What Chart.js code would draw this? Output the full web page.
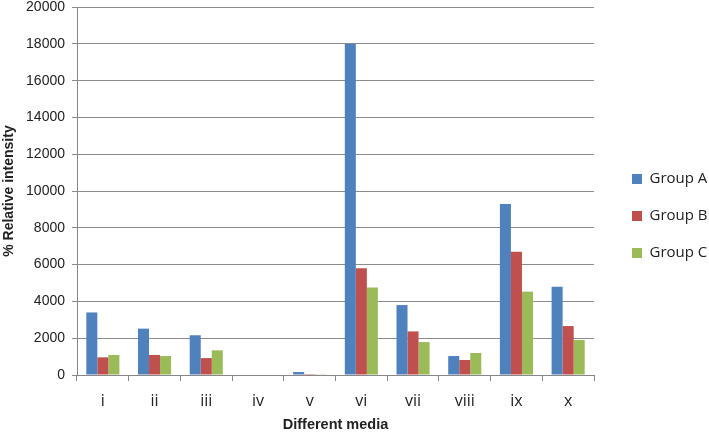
<!DOCTYPE html>
<html>
<head>
<meta charset="utf-8">
<script src="https://cdn.jsdelivr.net/npm/chart.js@4.4.1/dist/chart.umd.min.js"></script>
<style>
html,body{margin:0;padding:0;background:#fff;}
#wrap{width:709px;height:432px;position:relative;}
</style>
</head>
<body>
<div id="wrap"><canvas id="c" width="709" height="432"></canvas></div>
<script>
const categories = ['i','ii','iii','iv','v','vi','vii','viii','ix','x'];
const groupA = [3400, 2520, 2160, 0, 160, 18000, 3800, 1030, 9300, 4800];
const groupB = [960, 1090, 920, 0, 50, 5800, 2370, 815, 6700, 2660];
const groupC = [1090, 1030, 1340, 0, 40, 4750, 1790, 1195, 4530, 1900];
const seriesNames = ['Group A','Group B','Group C'];
const yTicks = [0,2000,4000,6000,8000,10000,12000,14000,16000,18000,20000];

const colors = ['#4F81BD','#C0504D','#9BBB59'];
const data = {
  labels: categories,
  datasets: [groupA, groupB, groupC].map((vals, i) => ({
    label: seriesNames[i],
    data: vals,
    backgroundColor: colors[i],
    borderWidth: 0,
    categoryPercentage: 0.64,
    barPercentage: 1.0
  }))
};

new Chart(document.getElementById('c'), {
  type: 'bar',
  data,
  options: {
    responsive: false,
    animation: false,
    devicePixelRatio: 1,
    layout: { padding: { top: 0, left: 0, right: 0, bottom: 0 } },
    plugins: {
      legend: {
        position: 'right',
        maxWidth: 99,
        labels: {
          boxWidth: 10,
          boxHeight: 10,
          padding: 22,
          color: '#222',
          font: { family: 'Open Sans', size: 15 }
        }
      },
      tooltip: { enabled: false }
    },
    scales: {
      x: {
        grid: { offset: true, drawOnChartArea: false, tickLength: 6, color: '#888', lineWidth: 1 },
        border: { color: '#888' },
        ticks: { color: '#222', padding: 11, font: { family: 'Open Sans', size: 16 }, maxRotation: 0 },
        title: { display: true, text: 'Different media', color: '#222', font: { family: 'Liberation Sans', size: 14.5, weight: 'bold' }, padding: { top: 0, bottom: -2 } },
        afterFit(s) { s.height = 57; }
      },
      y: {
        min: 0, max: 20000,
        afterBuildTicks(s) { s.ticks = yTicks.map(v => ({ value: v })); },
        grid: { color: '#8c8c8c', tickLength: 5, lineWidth: 1 },
        border: { color: '#888' },
        ticks: { color: '#222', padding: 7, font: { family: 'Liberation Sans', size: 14, lineHeight: 0.01 }, callback: (v) => String(v) },
        title: { display: true, text: '% Relative intensity', color: '#222', font: { family: 'Liberation Sans', size: 14, weight: 'bold' }, padding: { top: 1, bottom: 4 } },
        afterFit(s) { s.width = 77; }
      },
      y2: {
        position: 'right',
        display: true,
        grid: { display: false },
        border: { display: false },
        ticks: { display: false },
        afterFit(s) { s.width = 16; }
      }
    }
  }
});
</script>
</body>
</html>
